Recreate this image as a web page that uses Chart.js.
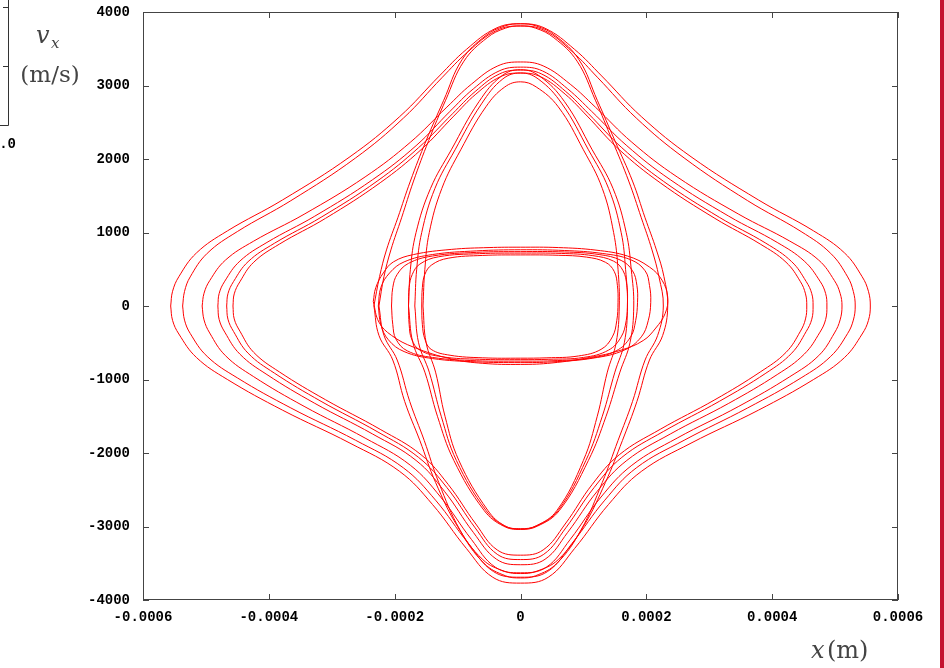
<!DOCTYPE html>
<html>
<head>
<meta charset="utf-8">
<script src="https://cdn.jsdelivr.net/npm/chart.js@4.4.1/dist/chart.umd.min.js"></script>
<style>
  body { margin: 0; background: #fff; }
  canvas { display: block; }
</style>
</head>
<body>
<canvas id="fase" width="944" height="668"></canvas>
<script>
// tick labels
var xTicks = [-0.0006, -0.0004, -0.0002, 0, 0.0002, 0.0004, 0.0006]
var yTicks = [-4000, -3000, -2000, -1000, 0, 1000, 2000, 3000, 4000]

// curves: [x in micrometres, v_x in m/s]
// wide "diamond" loops
var diamond1 = [[-556,0],[-553,200],[-543,399],[-515,722],[-466,1021],[-378,1444],[-271,2031],[-192,2577],[-129,3130],[-86,3491],[-39,3779],[0,3840],[39,3779],[86,3491],[129,3130],[192,2577],[271,2031],[378,1444],[466,1021],[515,722],[543,399],[553,200],[556,0],[553,-196],[543,-381],[515,-701],[466,-999],[378,-1418],[271,-1866],[192,-2251],[140,-2699],[86,-3299],[44,-3691],[0,-3770],[-44,-3691],[-86,-3299],[-140,-2699],[-192,-2251],[-271,-1866],[-378,-1418],[-466,-999],[-515,-701],[-543,-381],[-553,-196],[-556,0]]
var diamond2 = [[-537,0],[-534,198],[-525,396],[-498,716],[-450,1013],[-365,1433],[-262,2015],[-186,2557],[-125,3105],[-83,3463],[-38,3749],[0,3810],[38,3749],[82,3463],[123,3105],[184,2557],[260,2015],[361,1433],[446,1013],[493,716],[520,396],[529,198],[532,0],[529,-192],[520,-373],[493,-686],[446,-978],[361,-1387],[260,-1827],[184,-2203],[134,-2642],[82,-3229],[43,-3613],[0,-3690],[-43,-3613],[-83,-3229],[-135,-2642],[-186,-2203],[-262,-1827],[-365,-1387],[-450,-978],[-498,-686],[-525,-373],[-534,-192],[-537,0]]
var diamond3 = [[-506,0],[-503,173],[-494,345],[-469,624],[-424,883],[-344,1248],[-247,1756],[-175,2228],[-117,2706],[-78,3018],[-36,3267],[0,3320],[36,3267],[79,3018],[119,2706],[177,2228],[249,1756],[347,1248],[428,883],[474,624],[499,345],[508,173],[511,0],[508,-189],[499,-367],[474,-675],[428,-962],[347,-1365],[249,-1797],[177,-2167],[128,-2599],[79,-3176],[41,-3554],[0,-3630],[-40,-3554],[-78,-3176],[-127,-2599],[-175,-2167],[-247,-1797],[-344,-1365],[-424,-962],[-469,-675],[-494,-367],[-503,-189],[-506,0]]
var diamond4 = [[-481,0],[-479,169],[-470,338],[-446,611],[-403,865],[-327,1222],[-235,1719],[-166,2181],[-112,2649],[-75,2954],[-34,3198],[0,3250],[35,3198],[75,2954],[113,2649],[169,2181],[238,1719],[331,1222],[408,865],[451,611],[476,338],[485,169],[487,0],[485,-183],[476,-356],[451,-655],[408,-933],[331,-1324],[238,-1742],[169,-2101],[122,-2520],[75,-3080],[39,-3446],[0,-3520],[-38,-3446],[-75,-3080],[-121,-2520],[-166,-2101],[-235,-1742],[-327,-1324],[-403,-933],[-446,-655],[-470,-356],[-479,-183],[-481,0]]
var diamond5 = [[-467,0],[-465,167],[-456,334],[-433,603],[-391,854],[-317,1207],[-228,1698],[-162,2154],[-108,2616],[-72,2918],[-33,3159],[0,3210],[33,3159],[72,2918],[108,2616],[161,2154],[227,1698],[316,1207],[390,854],[431,603],[454,334],[463,167],[465,0],[463,-179],[454,-348],[431,-642],[390,-914],[316,-1297],[227,-1708],[161,-2060],[117,-2470],[72,-3019],[37,-3378],[0,-3450],[-37,-3378],[-72,-3019],[-117,-2470],[-162,-2060],[-228,-1708],[-317,-1297],[-391,-914],[-433,-642],[-456,-348],[-465,-179],[-467,0]]
var diamond6 = [[-457,0],[-455,165],[-446,330],[-424,596],[-383,843],[-310,1192],[-223,1677],[-158,2127],[-106,2584],[-71,2882],[-32,3119],[0,3170],[32,3119],[71,2882],[106,2584],[157,2127],[222,1677],[309,1192],[381,843],[422,596],[445,330],[453,165],[455,0],[453,-176],[445,-342],[422,-631],[381,-898],[309,-1275],[222,-1678],[157,-2024],[114,-2427],[71,-2966],[36,-3319],[0,-3390],[-37,-3319],[-71,-2966],[-115,-2427],[-158,-2024],[-223,-1678],[-310,-1275],[-383,-898],[-424,-631],[-446,-342],[-455,-176],[-457,0]]

// tall loops
var wide1 = [[-233,0],[-224,400],[-213,763],[-195,1200],[-175,1700],[-150,2250],[-122,2800],[-93,3350],[-55,3680],[-25,3810],[0,3840],[25,3810],[55,3680],[93,3350],[122,2800],[150,2250],[178,1700],[198,1200],[216,763],[228,400],[234,0],[226,-400],[205,-735],[185,-1300],[162,-1830],[135,-2400],[100,-3000],[60,-3450],[25,-3610],[0,-3640],[-25,-3610],[-60,-3450],[-100,-3000],[-135,-2400],[-160,-1830],[-184,-1300],[-203,-735],[-225,-400],[-233,0]]
var wide2 = [[-225,0],[-217,400],[-206,763],[-189,1200],[-170,1700],[-146,2250],[-119,2800],[-90,3330],[-53,3650],[-24,3780],[0,3810],[24,3780],[53,3650],[90,3330],[119,2800],[146,2250],[172,1700],[192,1200],[209,763],[220,400],[227,0],[218,-400],[198,-735],[178,-1300],[155,-1830],[130,-2400],[96,-3050],[58,-3500],[24,-3670],[0,-3700],[-24,-3670],[-58,-3500],[-96,-3050],[-130,-2400],[-153,-1830],[-176,-1300],[-196,-735],[-217,-400],[-225,0]]
var lens1 = [[-155,0],[-152,500],[-145,1000],[-125,1600],[-95,2125],[-55,2710],[-25,2980],[0,3050],[25,2980],[60,2710],[100,2125],[130,1600],[148,1000],[155,500],[157,0],[152,-500],[138,-900],[122,-1500],[100,-2100],[58,-2780],[25,-2990],[0,-3030],[-25,-2990],[-52,-2780],[-98,-2100],[-120,-1500],[-135,-900],[-150,-500],[-155,0]]
var lens2 = [[-168,0],[-165,500],[-157,1000],[-136,1600],[-104,2125],[-62,2750],[-28,3090],[0,3170],[28,3090],[66,2750],[108,2125],[140,1600],[160,1000],[167,500],[170,0],[165,-500],[150,-900],[130,-1500],[104,-2100],[60,-2780],[26,-2990],[0,-3035],[-26,-2990],[-55,-2780],[-102,-2100],[-126,-1500],[-145,-900],[-162,-500],[-168,0]]
var lens3 = [[-178,0],[-175,500],[-166,1000],[-143,1600],[-110,2125],[-66,2780],[-30,3130],[0,3215],[30,3130],[70,2780],[114,2125],[147,1600],[168,1000],[176,500],[180,0],[174,-500],[158,-900],[136,-1500],[108,-2100],[62,-2780],[27,-2995],[0,-3040],[-27,-2995],[-58,-2780],[-106,-2100],[-132,-1500],[-152,-900],[-171,-500],[-178,0]]

// flat loops round the centre
var flat1 = [[-234,60],[-230,250],[-218,450],[-202,600],[-170,700],[-110,770],[-50,795],[0,800],[60,795],[120,760],[170,680],[205,530],[225,350],[234,120],[230,-100],[215,-300],[195,-470],[160,-600],[110,-700],[50,-775],[0,-795],[-60,-780],[-110,-720],[-170,-560],[-205,-400],[-225,-220],[-234,60]]
var flat2 = [[-226,0],[-222,250],[-208,450],[-185,600],[-140,700],[-70,750],[0,765],[70,755],[130,715],[175,630],[198,480],[205,280],[207,50],[203,-200],[192,-420],[165,-600],[115,-710],[50,-760],[0,-770],[-70,-760],[-140,-715],[-185,-620],[-210,-460],[-222,-250],[-226,0]]
var flat3 = [[-205,0],[-203,250],[-196,430],[-178,580],[-140,680],[-70,730],[0,740],[70,735],[125,700],[160,620],[178,480],[185,280],[186,50],[183,-200],[175,-420],[152,-610],[110,-710],[50,-745],[0,-750],[-70,-745],[-140,-700],[-180,-610],[-198,-450],[-203,-250],[-205,0]]
var flat4 = [[-178,0],[-177,250],[-172,430],[-160,570],[-130,670],[-65,712],[0,720],[65,715],[115,685],[148,610],[163,480],[169,280],[170,50],[168,-200],[160,-420],[140,-600],[100,-700],[45,-725],[0,-730],[-65,-725],[-125,-690],[-160,-600],[-173,-450],[-177,-250],[-178,0]]
var flat5 = [[-157,0],[-156,250],[-152,430],[-141,560],[-115,650],[-60,688],[0,695],[60,690],[105,665],[135,595],[149,470],[154,280],[155,50],[153,-200],[146,-420],[128,-590],[92,-680],[42,-705],[0,-710],[-60,-705],[-112,-670],[-142,-590],[-152,-450],[-156,-250],[-157,0]]

var curvas = [diamond1, diamond2, diamond3, diamond4, diamond5, diamond6,
              wide1, wide2, lens1, lens2, lens3,
              flat1, flat2, flat3, flat4, flat5]

var datasets = curvas.map(function(c) {
  return {
    data: c.map(function(p) { return {x: p[0] / 1e6, y: p[1]} }),
    showLine: true,
    borderColor: '#ff0000',
    borderWidth: 1,
    pointRadius: 0,
    tension: 0.4,
    fill: false
  }
})

var tickFont = {family: "'Liberation Mono', 'DejaVu Sans Mono', monospace", weight: 'bold', size: 14}

// frame, inward ticks, axis labels and the bits of the neighbouring panels
var frame = {
  id: 'frame',
  afterDraw: function(chart) {
    var ctx = chart.ctx
    var a = chart.chartArea
    var sx = chart.scales.x
    var sy = chart.scales.y
    ctx.save()
    ctx.strokeStyle = '#444'
    ctx.lineWidth = 1
    ctx.strokeRect(Math.round(a.left) + 0.5, Math.round(a.top) + 0.5, Math.round(a.width) - 1, Math.round(a.height) - 1)
    ctx.beginPath()
    xTicks.forEach(function(v) {
      var px = Math.round(sx.getPixelForValue(v)) + 0.5
      ctx.moveTo(px, a.bottom); ctx.lineTo(px, a.bottom - 6)
      ctx.moveTo(px, a.top); ctx.lineTo(px, a.top + 6)
    })
    yTicks.forEach(function(v) {
      var py = Math.round(sy.getPixelForValue(v)) + 0.5
      ctx.moveTo(a.left, py); ctx.lineTo(a.left + 6, py)
      ctx.moveTo(a.right, py); ctx.lineTo(a.right - 6, py)
    })
    ctx.stroke()

    // left neighbour panel edge
    ctx.strokeStyle = '#333'
    ctx.beginPath()
    ctx.moveTo(8.5, 0); ctx.lineTo(8.5, 125.5); ctx.lineTo(0, 125.5)
    ctx.moveTo(3, 7.5); ctx.lineTo(8.5, 7.5)
    ctx.moveTo(3, 66.5); ctx.lineTo(8.5, 66.5)
    ctx.stroke()
    ctx.fillStyle = '#000'
    ctx.font = "bold 14px 'Liberation Mono', monospace"
    ctx.textAlign = 'right'
    ctx.textBaseline = 'alphabetic'
    ctx.fillText('1.0', 16, 148)

    // right neighbour bar
    ctx.fillStyle = '#c4122f'
    ctx.fillRect(940, 0, 4, 668)

    // axis titles
    ctx.fillStyle = '#444'
    ctx.textAlign = 'left'
    ctx.font = "italic 24px 'DejaVu Serif', serif"
    ctx.fillText('v', 36, 43)
    ctx.font = "italic 15px 'DejaVu Serif', serif"
    ctx.fillText('x', 51, 48)
    ctx.font = "23px 'DejaVu Serif', serif"
    ctx.textAlign = 'center'
    ctx.fillText('(m/s)', 50, 82)
    ctx.textAlign = 'left'
    ctx.font = "italic 24px 'DejaVu Serif', serif"
    ctx.fillText('x', 811, 658)
    ctx.font = "24px 'DejaVu Serif', serif"
    ctx.fillText('(m)', 827, 658)
    ctx.restore()
  }
}

var ctx = document.getElementById('fase').getContext('2d')
var grafico = new Chart(ctx, {
  type: 'scatter',
  data: { datasets: datasets },
  options: {
    responsive: false,
    animation: false,
    layout: { padding: { top: 12, right: 46, left: 0, bottom: 0 } },
    plugins: {
      legend: { display: false },
      tooltip: { enabled: false }
    },
    scales: {
      x: {
        type: 'linear',
        min: -0.0006,
        max: 0.0006,
        afterBuildTicks: function(s) { s.ticks = xTicks.map(function(v) { return {value: v} }) },
        afterFit: function(s) { s.height = 68; s.paddingLeft = 0; s.paddingRight = 0 },
        grid: { display: false, drawTicks: false },
        border: { display: false },
        ticks: {
          font: tickFont,
          color: '#000',
          padding: 9,
          maxRotation: 0,
          autoSkip: false,
          callback: function(v) { return Math.abs(v) < 1e-12 ? '0' : v.toFixed(4) }
        }
      },
      y: {
        type: 'linear',
        min: -4000,
        max: 4000,
        afterBuildTicks: function(s) { s.ticks = yTicks.map(function(v) { return {value: v} }) },
        afterFit: function(s) { s.width = 143; s.paddingTop = 0; s.paddingBottom = 0 },
        grid: { display: false, drawTicks: false },
        border: { display: false },
        ticks: {
          font: tickFont,
          color: '#000',
          padding: 13,
          autoSkip: false,
          callback: function(v) { return String(v) }
        }
      }
    }
  },
  plugins: [frame]
})
</script>
</body>
</html>
